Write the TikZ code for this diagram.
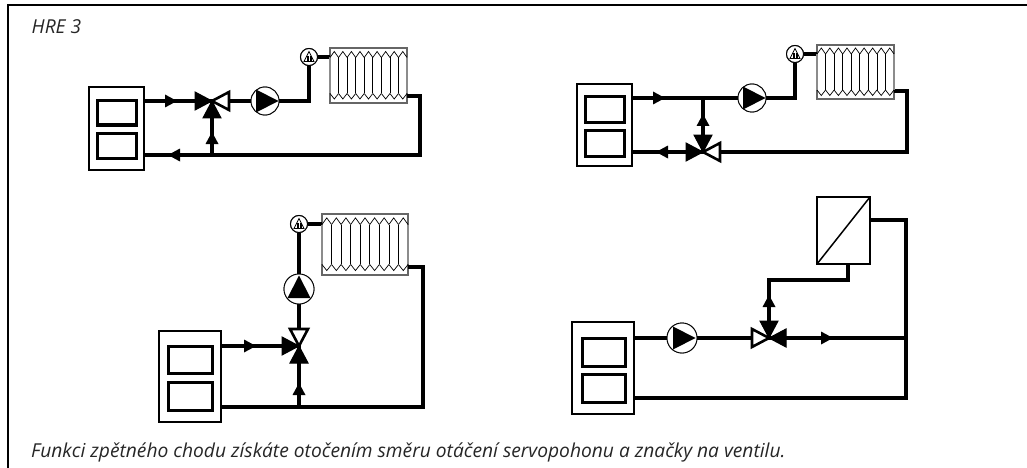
\documentclass[tikz,border=0pt]{standalone}
\usepackage{fontspec}
\setmainfont{Open Sans}
\usetikzlibrary{positioning}

\begin{document}
\begin{tikzpicture}[x=1pt, y=-1pt,
    pipe/.style={line width=4pt, line join=miter},
    boiler/.style={draw, line width=2.6pt, fill=white, inner sep=0pt, outer sep=0pt},
    panel/.style={draw, line width=3pt, inner sep=0pt, outer sep=0pt},
    pump/.style={draw, circle, line width=0.9pt, fill=white, minimum size=28pt, inner sep=0pt, outer sep=0pt},
    vent/.style={draw, circle, line width=1pt, fill=white, minimum size=17pt, inner sep=0pt, outer sep=0pt},
    rad/.style={draw=black!60, line width=1.2pt, fill=white, inner sep=0pt, outer sep=0pt},
    caption/.style={anchor=base west, inner sep=0pt, font=\fontsize{19.2}{22}\selectfont\itshape, text=black!85},
    full/.style={draw, fill=black, line width=1pt, line join=miter},
    hollow/.style={draw, fill=white, line width=2.6pt, line join=miter},
    port/.pic={\path[pic actions] (0,0) -- (-17,-9) -- (-17,9) -- cycle;},
    flowtip/.pic={\fill (-6,-6.5) -- (6,0) -- (-6,6.5) -- cycle;},
    rotor/.pic={\fill (-9,-11.5) -- (13.5,0) -- (-9,11.5) -- cycle;},
    ventmark/.pic={
        \draw[line width=0.7pt, line join=miter] (-5,4.5) -- (0,-5.5) -- (5,4.5) -- cycle;
        \foreach \i in {-2.5,-1,0.5,2} \fill (\i,-1) rectangle ++(1,5.5);
    },
    radfins/.pic={
        \draw[black!45, line width=1.8pt] (-38.5,-18) -- (-38.5,18) (38.5,-18) -- (38.5,18);
        \foreach \k in {0,...,8} {
            \draw[line width=0.7pt] ({\k*8.56-38.5},-18) -- ++(4.28,-6) -- ++(4.28,6);
            \draw[line width=0.7pt] ({\k*8.56-38.5},18) -- ++(4.28,5.5) -- ++(4.28,-5.5);
        }
        \foreach \k in {1,...,8}
            \draw[line width=0.8pt] ({\k*8.56-38.5},-18) -- ({\k*8.56-38.5},18);
    }]
    \useasboundingbox (0,0) rectangle (1027,468);
    \draw[line width=1.2pt] (1027,5) -- (8,5) -- (8,468);
    \node[caption] (title) at (31.5,34) {HRE 3};
    \node[caption] (note) at (31,457) {Funkci zpětného chodu získáte otočením směru otáčení servopohonu a značky na ventilu.};

    % Top left circuit
    \node[boiler, minimum width=55pt, minimum height=83pt] (boilerA) at (116.5,128.5) {};
    \node[panel, minimum width=39pt, minimum height=24pt] (panelAa) at (116.5,113) {};
    \node[panel, minimum width=39pt, minimum height=25pt] (panelAb) at (116.5,145.5) {};
    \coordinate (valveA) at (212,101);
    \coordinate (teeA) at (212,155);
    \coordinate (cornerA) at (420,155);
    \node[pump] (pumpA) at (265,101) {};
    \node[vent] (ventA) at (309,57) {};
    \node[rad, minimum width=77pt, minimum height=55pt] (radA) at (368.5,75.5) {};
    \draw[pipe] (boilerA.east |- valveA) -- (valveA) -- (pumpA) -- (ventA |- pumpA) -- (ventA);
    \draw[pipe] (ventA) -- (radA.west |- ventA);
    \draw[pipe] (radA.east |- 0,96) -| (cornerA) -- (boilerA.east |- cornerA);
    \draw[pipe] (teeA) -- (valveA);
    \node[vent] at (ventA) {};
    \node[pump] at (pumpA) {};
    \pic at (ventA) {ventmark};
    \pic at (pumpA) {rotor};
    \pic at (radA) {radfins};
    \pic[full] at (valveA) {port};
    \pic[full, rotate=90] at (valveA) {port};
    \pic[hollow, rotate=180] at (valveA) {port};
    \pic at (171,101) {flowtip};
    \pic[rotate=180] at (174,155) {flowtip};
    \pic[rotate=90] at (212,138) {flowtip};

    % Top right circuit
    \node[boiler, minimum width=55pt, minimum height=82pt] (boilerB) at (604.5,125) {};
    \node[panel, minimum width=39pt, minimum height=26pt] (panelBa) at (604.5,110) {};
    \node[panel, minimum width=39pt, minimum height=26pt] (panelBb) at (604.5,143) {};
    \coordinate (valveB) at (703,152);
    \coordinate (teeB) at (703,98);
    \coordinate (cornerB) at (907,152);
    \node[pump] (pumpB) at (752,98) {};
    \node[vent] (ventB) at (795,54) {};
    \node[rad, minimum width=77pt, minimum height=54pt] (radB) at (855.5,72) {};
    \draw[pipe] (boilerB.east |- pumpB) -- (pumpB) -- (ventB |- pumpB) -- (ventB);
    \draw[pipe] (ventB) -- (radB.west |- ventB);
    \draw[pipe] (radB.east |- 0,91) -| (cornerB) -- (valveB);
    \draw[pipe] (valveB) -- (boilerB.east |- valveB);
    \draw[pipe] (teeB) -- (valveB);
    \node[vent] at (ventB) {};
    \node[pump] at (pumpB) {};
    \pic at (ventB) {ventmark};
    \pic at (pumpB) {rotor};
    \pic at (radB) {radfins};
    \pic[full] at (valveB) {port};
    \pic[full, rotate=-90] at (valveB) {port};
    \pic[hollow, rotate=180] at (valveB) {port};
    \pic at (659,98) {flowtip};
    \pic[rotate=180] at (662,152) {flowtip};
    \pic[rotate=90] at (703,120) {flowtip};

    % Bottom left circuit
    \node[boiler, minimum width=62pt, minimum height=91pt] (boilerC) at (190,376.5) {};
    \node[panel, minimum width=44pt, minimum height=27pt] (panelCa) at (190,359.5) {};
    \node[panel, minimum width=44pt, minimum height=28pt] (panelCb) at (190,396) {};
    \coordinate (valveC) at (299,346);
    \coordinate (teeC) at (299,407);
    \coordinate (cornerC) at (423,407);
    \node[pump, minimum size=30pt] (pumpC) at (299,289) {};
    \node[vent] (ventC) at (299,224) {};
    \node[rad, minimum width=86pt, minimum height=61pt] (radC) at (365,244.5) {};
    \draw[pipe] (boilerC.east |- valveC) -- (valveC);
    \draw[pipe] (teeC) -- (valveC) -- (pumpC) -- (ventC);
    \draw[pipe] (ventC) -- (radC.west |- ventC);
    \draw[pipe] (radC.east |- 0,267) -| (cornerC) -- (boilerC.east |- cornerC);
    \node[vent] at (ventC) {};
    \node[pump, minimum size=30pt] at (pumpC) {};
    \pic at (ventC) {ventmark};
    \pic[rotate=90] at (pumpC) {rotor};
    \pic[xscale=1.117, yscale=1.11] at (radC) {radfins};
    \pic[full] at (valveC) {port};
    \pic[full, rotate=90] at (valveC) {port};
    \pic[hollow, rotate=-90] at (valveC) {port};
    \pic at (250,346) {flowtip};
    \pic[rotate=90] at (299,389) {flowtip};

    % Bottom right circuit
    \node[boiler, minimum width=62pt, minimum height=92pt] (boilerD) at (603,368) {};
    \node[panel, minimum width=43pt, minimum height=28pt] (panelDa) at (603.5,352) {};
    \node[panel, minimum width=43pt, minimum height=28pt] (panelDb) at (603.5,388) {};
    \coordinate (valveD) at (769,338);
    \coordinate (cornerD) at (906,398);
    \node[pump, minimum size=30pt] (pumpD) at (682,338) {};
    \node[draw, line width=2pt, fill=white, minimum width=53pt, minimum height=67pt, inner sep=0pt, outer sep=0pt] (exchD) at (843.5,230.5) {};
    \draw[line width=1.5pt] (exchD.south west) -- (exchD.north east);
    \draw[pipe] (boilerD.east |- valveD) -- (pumpD) -- (valveD) -- (cornerD |- valveD);
    \draw[pipe] (exchD.east |- 0,220) -| (cornerD) -- (boilerD.east |- cornerD);
    \draw[pipe] (exchD.south -| 848,0) |- (769,280) -- (valveD);
    \node[pump, minimum size=30pt] at (pumpD) {};
    \pic at (pumpD) {rotor};
    \pic[full, rotate=180] at (valveD) {port};
    \pic[full, rotate=-90] at (valveD) {port};
    \pic[hollow] at (valveD) {port};
    \pic at (827,338) {flowtip};
    \pic[rotate=90] at (769,301) {flowtip};
\end{tikzpicture}
\end{document}
